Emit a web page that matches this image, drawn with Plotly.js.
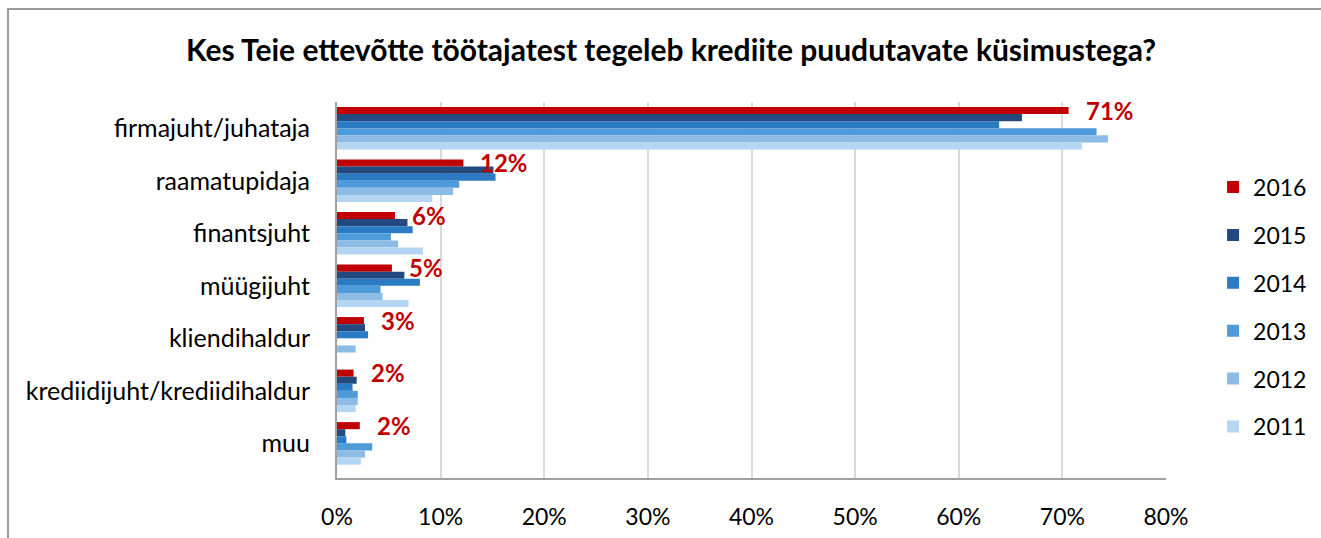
<!DOCTYPE html>
<html>
<head>
<meta charset="utf-8">
<script src="https://cdn.plot.ly/plotly-3.0.1.min.js"></script>
<style>
  html, body { margin: 0; padding: 0; background: #fff; }
  #wrap { position: relative; width: 1321px; height: 538px; overflow: hidden; }
  #chart { position: absolute; left: 0; top: 0; width: 1321px; height: 538px; }
  #frame { position: absolute; left: 7px; top: 8px; width: 1400px; height: 600px;
           border-top: 2px solid #9a9a9a; border-left: 2px solid #9a9a9a; pointer-events: none; }
</style>
</head>
<body>
<div id="wrap">
  <div id="chart"></div>
  <div id="frame"></div>
</div>
<script>
// ---- data ----
const categories = ["firmajuht/juhataja", "raamatupidaja", "finantsjuht", "müügijuht",
                    "kliendihaldur", "krediidijuht/krediidihaldur", "muu"];
const years = ["2016", "2015", "2014", "2013", "2012", "2011"];
const v2016 = [0.706, 0.122, 0.056, 0.053, 0.026, 0.016, 0.022];
const v2015 = [0.661, 0.151, 0.068, 0.065, 0.027, 0.019, 0.008];
const v2014 = [0.639, 0.153, 0.073, 0.080, 0.030, 0.015, 0.009];
const v2013 = [0.733, 0.118, 0.052, 0.042, null,  0.020, 0.034];
const v2012 = [0.744, 0.112, 0.059, 0.044, 0.018, 0.020, 0.027];
const v2011 = [0.719, 0.092, 0.083, 0.069, null,  0.018, 0.023];
const xTicks = [0, 0.1, 0.2, 0.3, 0.4, 0.5, 0.6, 0.7, 0.8];

// ---- styles ----
const colors = ["#C00000", "#234A7E", "#2B7BC4", "#4F9BD9", "#8CBCE6", "#B5D6F3"];
const series = [v2016, v2015, v2014, v2013, v2012, v2011];
const FONT = "Lato, 'Open Sans', sans-serif";

const W = 1321, H = 538;
const M = {l: 337, r: 155, t: 102, b: 60};
const BARGAP = 0.19;
const plotH = H - M.t - M.b;
const slot = plotH / categories.length;
const barW = slot * (1 - BARGAP) / years.length;
const shift2016 = 2.5 * barW; // top bar centre above category centre

const traces = series.map((vals, i) => ({
  type: "bar",
  orientation: "h",
  name: years[i],
  x: vals,
  y: categories,
  legendgroup: years[i],
  marker: {color: colors[i], line: {width: 0}},
  hoverinfo: "x+name"
}));

const annotations = categories.map((c, i) => ({
  x: v2016[i], y: c, xref: "x", yref: "y",
  xanchor: "left", yanchor: "middle",
  xshift: 15, yshift: shift2016,
  showarrow: false,
  text: "<b>" + Math.round(v2016[i] * 100) + "%</b>",
  font: {family: FONT, size: 24, color: "#C00000"}
}));

const layout = {
  width: W, height: H,
  margin: M,
  paper_bgcolor: "rgba(0,0,0,0)",
  plot_bgcolor: "#ffffff",
  font: {family: FONT, size: 25, color: "#000"},
  title: {
    text: "<b>Kes Teie ettevõtte töötajatest tegeleb krediite puudutavate küsimustega?</b>",
    font: {family: FONT, size: 30, color: "#000"},
    x: 0.508, xanchor: "center", xref: "container",
    y: 0.907, yanchor: "middle", yref: "container"
  },
  barmode: "group",
  bargap: BARGAP,
  bargroupgap: 0,
  xaxis: {
    range: [0, 0.8],
    tickvals: xTicks,
    tickformat: ".0%",
    showgrid: true, gridcolor: "#d9d9d9", gridwidth: 2,
    zeroline: false,
    showline: true, linecolor: "#a0a0a0", linewidth: 2,
    ticks: "outside", ticklen: 17, tickcolor: "rgba(0,0,0,0)",
    tickfont: {family: FONT, size: 23, color: "#000"},
    fixedrange: true
  },
  yaxis: {
    autorange: "reversed",
    type: "category",
    showgrid: false, zeroline: false,
    showline: true, linecolor: "#a0a0a0", linewidth: 2,
    ticks: "outside", ticklen: 20, tickcolor: "rgba(0,0,0,0)",
    tickfont: {family: FONT, size: 25, color: "#000"},
    fixedrange: true
  },
  showlegend: true,
  legend: {
    xref: "container", x: 0.9183, xanchor: "left",
    y: 0.831, yanchor: "top",
    traceorder: "grouped",
    tracegroupgap: 15,
    font: {family: FONT, size: 23, color: "#000"},
    bgcolor: "rgba(0,0,0,0)",
    itemclick: false, itemdoubleclick: false
  },
  annotations: annotations
};

Plotly.newPlot("chart", traces, layout, {displayModeBar: false, staticPlot: true});
</script>
</body>
</html>
